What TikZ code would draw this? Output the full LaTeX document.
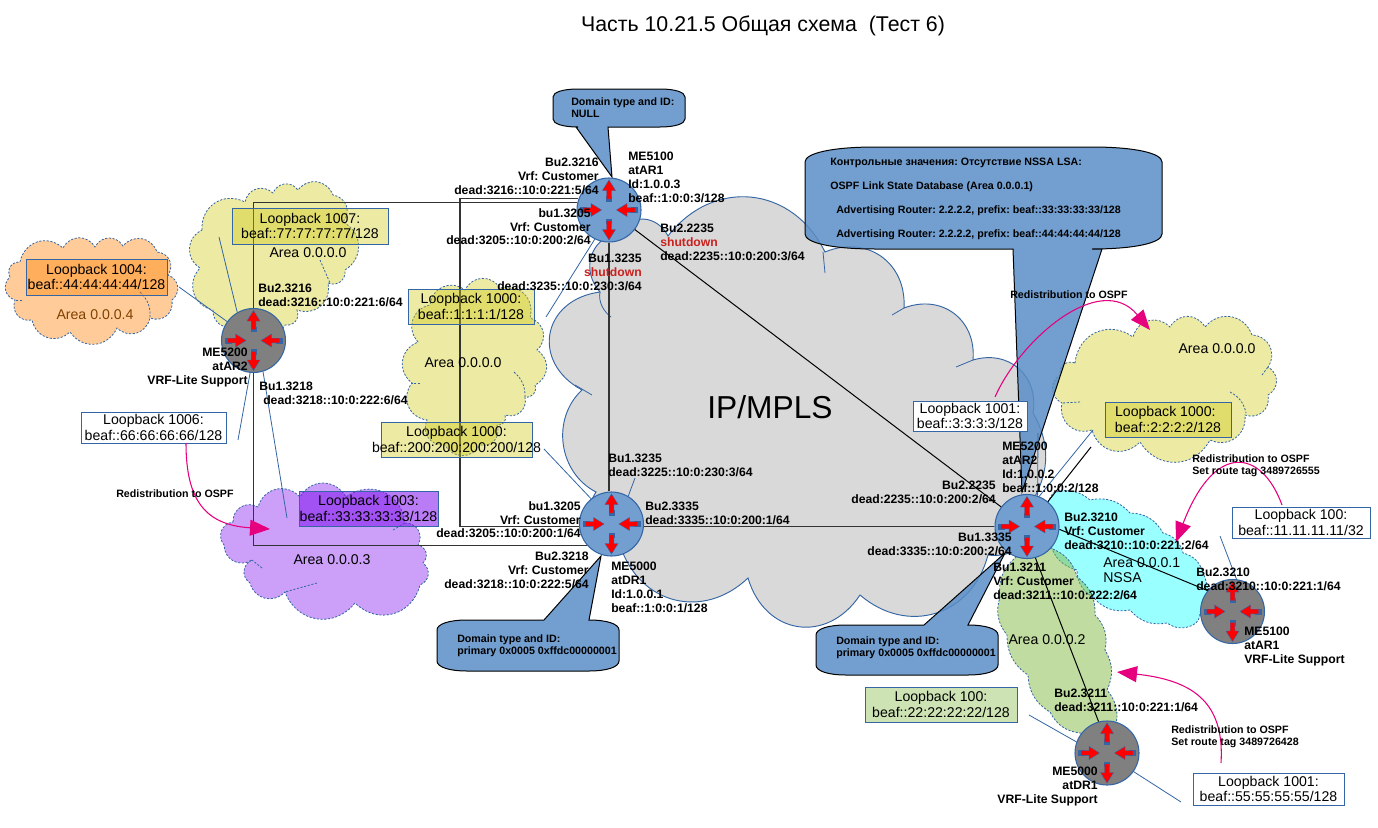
\documentclass[tikz,border=0pt]{standalone}
\usepackage{fontspec}
\setmainfont{Liberation Sans}
\usetikzlibrary{arrows.meta}
\definecolor{linkblue}{HTML}{3465A4}
\definecolor{calloutblue}{HTML}{598EC7}
\definecolor{routerblue}{HTML}{729FCF}
\definecolor{gold}{RGB}{207,202,25}
\definecolor{orangearea}{HTML}{FF8000}
\definecolor{purplearea}{RGB}{127,16,239}
\definecolor{cyanarea}{HTML}{00FFFF}
\definecolor{greenarea}{RGB}{129,185,65}
\definecolor{pinkline}{HTML}{E6007E}
\definecolor{alertred}{HTML}{C9211E}
\tikzset{
  lobe/.style={bend left=60,looseness=1.2},
  biglobe/.style={bend left=58,looseness=1.2},
  cloudy/.style={draw=linkblue,line width=.6pt,dash pattern=on 1.6pt off 1.2pt,fill opacity=.4,draw opacity=1},
  stubline/.style={draw=linkblue,line width=.6pt,dash pattern=on 1.6pt off 1.2pt},
  leader/.style={draw=linkblue,line width=.6pt},
  link/.style={draw=black,line width=.75pt},
  orth/.style={draw=black!80,line width=.9pt},
  redist/.style={draw=pinkline,line width=.8pt,-{Triangle[length=15pt,width=12pt,fill=pinkline]}},
  callbody/.style={draw=black,line width=.75pt,fill=calloutblue,fill opacity=.85},
  lab/.style={inner sep=0pt,yshift=-1.5pt,font=\bfseries\fontsize{9.15}{10.45}\selectfont},
  small/.style={inner sep=0pt,yshift=-1pt,font=\bfseries\fontsize{8}{9}\selectfont},
  reg/.style={inner sep=0pt,font=\fontsize{10.6}{11.8}\selectfont},
  boxed/.style 2 args={draw=linkblue,line width=.65pt,inner sep=0pt,minimum width=#1,minimum height=#2},
  router/.style={circle,draw=linkblue,line width=.8pt,inner sep=0pt,minimum size=48pt,fill=routerblue},
  grouter/.style={router,fill=black!50}
}
% closed lobed outline through a clockwise list of points
\newcommand\lobed[4]{\path[#1] (#2,#3) \foreach \px/\py in {#4} { to[lobe] (\px,\py) } to[lobe] (#2,#3) -- cycle;}
% barrel-shaped callout, tail on its lower edge
\newcommand\callshape[9]{\path[callbody] (#1,#2+#8) .. controls (#1,#2+.4*#8) and (#1+.4*#9,#2) .. (#1+#9,#2) -- (#3-#9,#2) .. controls (#3-.4*#9,#2) and (#3,#2+.4*#8) .. (#3,#2+#8) -- (#3,#4-#8) .. controls (#3,#4-.4*#8) and (#3-.4*#9,#4) .. (#3-#9,#4) -- (#6,#4) -- (#7) -- (#5,#4) -- (#1+#9,#4) .. controls (#1+.4*#9,#4) and (#1,#4-.4*#8) .. (#1,#4-#8) -- cycle;}
% barrel-shaped callout, tail on its upper edge
\newcommand\callup[9]{\path[callbody] (#1,#2+#8) .. controls (#1,#2+.4*#8) and (#1+.4*#9,#2) .. (#1+#9,#2) -- (#5,#2) -- (#7) -- (#6,#2) -- (#3-#9,#2) .. controls (#3-.4*#9,#2) and (#3,#2+.4*#8) .. (#3,#2+#8) -- (#3,#4-#8) .. controls (#3,#4-.4*#8) and (#3-.4*#9,#4) .. (#3-#9,#4) -- (#1+#9,#4) .. controls (#1+.4*#9,#4) and (#1,#4-.4*#8) .. (#1,#4-#8) -- cycle;}
% loopback box with its text
\newcommand\lbox[7]{\node[boxed={(#4-#2)*.75pt}{(#5-#3)*.75pt},#6] (#1) at ({(#2+#4)/2},{(#3+#5)/2}) {};\node[reg,align=center] (#1t) at (#1) {#7};}
% router arrows
\newcommand\outarrow[1]{\begin{scope}[rotate=#1]
  \fill[linkblue] (-3,-14) rectangle (3,-8.5);
  \path[fill=red,draw=linkblue,line width=.3pt] (0,-30) -- (6.5,-19.5) -- (2.3,-19.5) -- (2.3,-11) -- (-2.3,-11) -- (-2.3,-19.5) -- (-6.5,-19.5) -- cycle;
\end{scope}}
\newcommand\inarrow[1]{\begin{scope}[rotate=#1]
  \fill[linkblue] (-3,-29) rectangle (3,-22);
  \path[fill=red,draw=linkblue,line width=.3pt] (0,-7.5) -- (6.5,-18) -- (2.3,-18) -- (2.3,-26) -- (-2.3,-26) -- (-2.3,-18) -- (-6.5,-18) -- cycle;
\end{scope}}
\newcommand\glyph[1]{\begin{scope}[shift={(#1)}]
  \outarrow{0}\outarrow{180}\inarrow{90}\inarrow{-90}
\end{scope}}
\begin{document}
\frenchspacing
\begin{tikzpicture}[x=.75pt,y=-.75pt]
\useasboundingbox (0,0) rectangle (1378,828);
% grey core cloud
\path[fill=black!15,draw=linkblue,line width=.7pt] (600,292)
  to[biglobe] (618,232) to[biglobe] (668,236) to[biglobe] (825,252) to[biglobe] (904,308)
  to[biglobe] (973,360) to[biglobe] (1033,413) to[bend left=30] (1033,500) to[biglobe] (988,555)
  to[biglobe] (860,595) to[bend left=65,looseness=1.35] (748,578) to[biglobe] (620,545) to[biglobe] (596,492)
  to[bend left=55,looseness=1.05] (582,390) to[bend left=72,looseness=1.5] (600,292) -- cycle;
\draw[leader] (823,252) -- (825,273);
\draw[leader] (904,308) -- (892,315);
\draw[leader] (973,360) -- (956,367);
\draw[leader] (575,385) -- (592,395);
\draw[leader] (600,292) .. controls (598,302) and (604,312) .. (611,317);
% areas
\lobed{cloudy,fill=gold}{202}{230}{245/202,273/193,298/190,333/195,343/222,345/270,328/283,297/310,285/325,237/325,213/310,200/268}
\lobed{cloudy,fill=orangearea}{20}{262}{63/248,95/247,123/246,157/252,168/275,172/300,150/318,117/328,70/332,32/320,15/300,10/277}
\lobed{cloudy,fill=gold}{418}{342}{430/305,465/290,500/288,530/318,537/350,535/385,525/397,505/415,497/425,480/445,445/445,427/420,412/383}
\lobed{cloudy,fill=gold}{1075}{363}{1133/337,1170/327,1205/327,1252/335,1268/367,1268/395,1245/415,1210/440,1140/442,1092/430,1062/403,1060/375}
\lobed{cloudy,fill=purplearea}{233}{522}{258/507,300/497,346/497,405/523,418/545,423/563,420/585,355/603,285/592,250/583,252/560,224/545}
\lobed{cloudy,fill=cyanarea,lobe/.style={bend left=30}}{1053}{493}{1090/500,1130/513,1163/533,1183/553,1203/573,1200/613,1193/625,1167/623,1130/610,1093/597,1077/570,1050/543}
\lobed{cloudy,fill=greenarea,fill opacity=.5,lobe/.style={bend left=28}}{1015}{558}{1050/548,1077/577,1095/615,1105/650,1107/690,1115/728,1080/733,1050/712,1028/675,1007/635,1000/597}
% inner ends of the lobes
\draw[stubline] (320,260) -- (330,283);
\draw[stubline] (514,372) to[bend left=25] (525,397);
\draw[stubline] (420,383) -- (412,383);
\draw[stubline] (1230,392) to[bend left=25] (1246,413);
\draw[stubline] (1262,375) -- (1268,367);
\draw[stubline] (1080,402) -- (1062,403);
\draw[stubline] (317,583) -- (285,592);
\draw[stubline] (393,530) -- (405,523);
\draw[stubline] (262,568) -- (252,560);
\draw[stubline] (140,292) to[bend left=25] (150,318);
\draw[stubline] (22,300) -- (15,300);
% callouts
\callshape{553}{89}{685}{127}{576}{608}{612,177}{8}{25}
\callshape{805}{147}{1162}{249}{1013}{1102}{1022,492}{15}{70}
\callup{437}{620}{619}{671}{544}{589}{601,556}{10}{30}
\callup{816}{625}{998}{675}{924}{968}{1005,553}{10}{30}
% routers
\node[router] (ar1) at (609,210) {};
\node[router] (dr1) at (611.5,524) {};
\node[router] (dist) at (1027,526.5) {};
\node[grouter] (me52) at (253.5,340.5) {};
\node[grouter] (me51) at (1232.5,611.5) {};
\node[grouter] (me50) at (1107,753) {};
% links
\coordinate (innerx) at (460,300);
\coordinate (blk) at (1091,447);
\draw[orth] (me52.north) |- (ar1.167);
\draw[orth] (me52.south) |- (dr1.221);
\draw[orth] (ar1.160) -| (innerx) |- (dr1.185);
\draw[orth] (ar1.south) -- (ar1.south |- dr1.north);
\draw[orth] (dr1.east |- dist.west) -- (dist.west);
\draw[link] (ar1) -- (dist);
\draw[link] (dist.-5) -- (me51.140);
\draw[link] (dist.-75) -- (me50.105);
\draw[link] (blk) -- (dist.50);
% boxes
\lbox{bA}{26}{259}{167}{295}{fill=orangearea,fill opacity=.4}{Loopback 1004:\\beaf::44:44:44:44/128}
\lbox{bB}{232}{208}{388}{244}{fill=gold,fill opacity=.4}{Loopback 1007:\\beaf::77:77:77:77/128}
\lbox{bC}{408}{289}{534}{324}{fill=gold,fill opacity=.4}{Loopback 1000:\\beaf::1:1:1:1/128}
\lbox{bD}{381}{422}{532}{457}{fill=gold,fill opacity=.4}{Loopback 1000:\\beaf::200:200:200:200/128}
\lbox{bE}{81}{412}{226}{443}{fill=white}{Loopback 1006:\\beaf::66:66:66:66/128}
\lbox{bF}{299}{491}{438}{526}{fill=purplearea,fill opacity=.55}{Loopback 1003:\\beaf::33:33:33:33/128}
\lbox{bG}{913}{401}{1027}{431}{fill=white}{Loopback 1001:\\beaf::3:3:3:3/128}
\lbox{bH}{1105}{402}{1231}{437}{fill=gold,fill opacity=.4}{Loopback 1000:\hspace*{4pt}\\beaf::2:2:2:2/128}
\lbox{bI}{1232}{507}{1370}{538}{fill=white}{Loopback 100:\\beaf::11.11.11.11/32}
\lbox{bJ}{865}{687}{1017}{722}{fill=greenarea,fill opacity=.4}{Loopback 100:\\beaf::22:22:22:22/128}
\lbox{bK}{1193}{773}{1344}{805}{fill=white}{Loopback 1001:\\beaf::55:55:55:55/128}
% leaders
\coordinate (fA) at (179,287);
\coordinate (fB) at (219,237);
\coordinate (fE) at (238,440);
\coordinate (fF) at (287,518);
\coordinate (fC) at (546,317);
\coordinate (fD) at (544,449);
\coordinate (fM) at (635,478);
\coordinate (fG) at (1038,433);
\coordinate (fH) at (1093,430);
\coordinate (fI) at (1220,536);
\coordinate (fJ) at (1029,715);
\coordinate (fK) at (1181,802);
\draw[leader] (fA) -- (me52);
\draw[leader] (fB) -- (me52.120);
\draw[leader] (fE) -- (me52.264);
\draw[leader] (fF) -- (me52.287);
\draw[leader] (fC) -- (ar1.244);
\draw[leader] (fD) -- (dr1.129);
\draw[leader] (fM) -- (dr1.59);
\draw[leader] (fG) -- (dist.71);
\draw[leader] (fH) -- (dist.68);
\draw[leader] (fI) -- (me51.83);
\draw[leader] (fJ) -- (me50.160);
\draw[leader] (fK) -- (me50.-35);
% redistribution arrows
\coordinate (rA0) at (186,443);
\coordinate (rA1) at (270,529);
\coordinate (rB0) at (995,397);
\coordinate (rB1) at (1150,330);
\coordinate (rC0) at (1282,505);
\coordinate (rC1) at (1176,542);
\coordinate (rD0) at (1221,763);
\coordinate (rD1) at (1117,672);
\draw[redist] (rA0) .. controls (186,500) and (205,525) .. (rA1);
\draw[redist] (rB0) .. controls (1020,340) and (1100,270) .. (rB1);
\draw[redist] (rC0) .. controls (1262,450) and (1215,440) .. (rC1);
\draw[redist] (rD0) .. controls (1225,700) and (1190,680) .. (rD1);
% router glyphs
\glyph{ar1}\glyph{dr1}\glyph{dist}\glyph{me52}\glyph{me51}\glyph{me50}
% title and big labels
\node[inner sep=0pt,font=\fontsize{16}{18}\selectfont] (title) at (763,26) {Часть 10.21.5 Общая схема\ \ (Тест 6)};
\node[inner sep=0pt,font=\fontsize{23.8}{26}\selectfont] (core) at (770,407) {IP/MPLS};
\node[reg,text=orangearea!50!black] (a4) at (95,315) {Area 0.0.0.4};
\node[reg] (a0a) at (308,253) {Area 0.0.0.0};
\node[reg] (a0b) at (463,363) {Area 0.0.0.0};
\node[reg] (a0c) at (1217,349) {Area 0.0.0.0};
\node[reg] (a3) at (332,560) {Area 0.0.0.3};
\node[reg] (a2) at (1047,640) {Area 0.0.0.2};
\node[reg,anchor=north west,align=left] (a1) at (1103,557) {Area 0.0.0.1\\NSSA};
% interface labels
\node[lab,anchor=north east,align=right] (t1) at (599,156) {Bu2.3216\\Vrf: Customer\\dead:3216::10:0:221:5/64};
\node[lab,anchor=north west,align=left] (t2) at (628,150) {ME5100\\atAR1\\Id:1.0.0.3\\beaf::1:0:0:3/128};
\node[lab,anchor=north east,align=right] (t3) at (591,206) {bu1.3205\\Vrf: Customer\\dead:3205::10:0:200:2/64};
\node[lab,anchor=north west,align=left] (t4) at (660,222) {Bu2.2235\\\textcolor{alertred}{shutdown}\\dead:2235::10:0:200:3/64};
\node[lab,anchor=north east,align=right] (t5) at (642,252) {Bu1.3235\\\textcolor{alertred}{shutdown}\\dead:3235::10:0:230:3/64};
\node[lab,anchor=north west,align=left] (t6) at (258,282) {Bu2.3216\\dead:3216::10:0:221:6/64};
\node[lab,anchor=north east,align=right] (t7) at (248,346) {ME5200\\atAR2\\VRF-Lite Support};
\node[lab,anchor=north west,align=left] (t8) at (259,380) {Bu1.3218\\\hspace*{3pt}dead:3218::10:0:222:6/64};
\node[lab,anchor=north west,align=left] (t9) at (608,452) {Bu1.3235\\dead:3225::10:0:230:3/64};
\node[lab,anchor=north west,align=left] (t10) at (645,500) {Bu2.3335\\dead:3335::10:0:200:1/64};
\node[lab,anchor=north east,align=right] (t11) at (581,499) {bu1.3205\\Vrf: Customer\\dead:3205::10:0:200:1/64};
\node[lab,anchor=north east,align=right] (t12) at (589,550) {Bu2.3218\\Vrf: Customer\\dead:3218::10:0:222:5/64};
\node[lab,anchor=north west,align=left] (t13) at (611,560) {ME5000\\atDR1\\Id:1.0.0.1\\beaf::1:0:0:1/128};
\node[lab,anchor=north west,align=left] (t14) at (1002,440) {ME5200\\atAR2\\Id:1.0.0.2\\beaf::1:0:0:2/128};
\node[lab,anchor=north east,align=right] (t15) at (996,479) {Bu2.2235\\dead:2235::10:0:200:2/64};
\node[lab,anchor=north east,align=right] (t16) at (1012,531) {Bu1.3335\\dead:3335::10:0:200:2/64};
\node[lab,anchor=north west,align=left] (t17) at (1064,511) {Bu2.3210\\Vrf: Customer\\dead:3210::10:0:221:2/64};
\node[lab,anchor=north west,align=left] (t18) at (993,561) {Bu1.3211\\Vrf: Customer\\dead:3211::10:0:222:2/64};
\node[lab,anchor=north west,align=left] (t19) at (1196,566) {Bu2.3210\\dead:3210::10:0:221:1/64};
\node[lab,anchor=north west,align=left] (t20) at (1244,625) {ME5100\\atAR1\\VRF-Lite Support};
\node[lab,anchor=north west,align=left] (t21) at (1054,687) {Bu2.3211\\dead:3211::10:0:221:1/64};
\node[lab,anchor=north east,align=right] (t22) at (1098,765) {ME5000\\atDR1\\VRF-Lite Support};
% redistribution labels
\node[small,anchor=west] (s1) at (116,492) {Redistribution to OSPF};
\node[small,anchor=west] (s2) at (1010,293) {Redistribution to OSPF};
\node[small,anchor=north west,align=left] (s3) at (1192,453) {Redistribution to OSPF\\Set route tag 3489726555};
\node[small,anchor=north west,align=left] (s4) at (1171,724) {Redistribution to OSPF\\Set route tag 3489726428};
% callout texts
\node[small,anchor=north west,align=left] (c1) at (571,96) {Domain type and ID:\\NULL};
\node[small,anchor=north west,align=left] (c2) at (457,633) {Domain type and ID:\\primary 0x0005 0xffdc00000001};
\node[small,anchor=north west,align=left] (c3) at (836,635) {Domain type and ID:\\primary 0x0005 0xffdc00000001};
\node[small,anchor=west] (c4) at (830,162) {Контрольные значения: Отсутствие NSSA LSA:};
\node[small,anchor=west] (c5) at (830,185) {OSPF Link State Database (Area 0.0.0.1)};
\node[small,anchor=west] (c6) at (836,209) {Advertising Router: 2.2.2.2, prefix: beaf::33:33:33:33/128};
\node[small,anchor=west] (c7) at (836,233) {Advertising Router: 2.2.2.2, prefix: beaf::44:44:44:44/128};
\end{tikzpicture}
\end{document}
